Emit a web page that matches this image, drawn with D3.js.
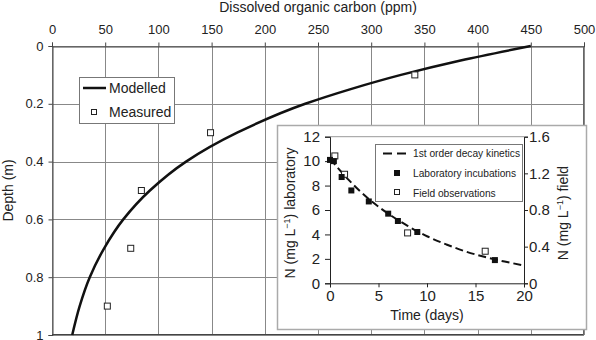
<!DOCTYPE html>
<html>
<head>
<meta charset="utf-8">
<script src="https://cdn.jsdelivr.net/npm/d3@7"></script>
<style>
body { margin: 0; background: #fff; }
text { font-family: "Liberation Sans", Arial, sans-serif; fill: #222; }
</style>
</head>
<body>
<div id="chart"></div>
<script>
// main chart data
const docTicks = [0, 50, 100, 150, 200, 250, 300, 350, 400, 450, 500];
const depthTicks = [0, 0.2, 0.4, 0.6, 0.8, 1];
const modelDepth = [0, 0.05, 0.1, 0.15, 0.2, 0.3, 0.4, 0.5, 0.6, 0.7, 0.8, 0.9, 1.0];
const modelDoc = [450, 384, 328, 280, 238, 174, 126, 92, 67, 49, 35.5, 26, 19];
const measuredDoc = [341, 149, 84, 74, 52];
const measuredDepth = [0.1, 0.3, 0.5, 0.7, 0.9];

// inset data
const dayTicks = [0, 5, 10, 15, 20];
const labTicks = [0, 2, 4, 6, 8, 10, 12];
const fieldTicks = [0, 0.4, 0.8, 1.2, 1.6];
const labDays = [0, 0.4, 1.2, 2.2, 4, 6, 7, 9, 17];
const labN = [10.1, 10.0, 8.7, 7.6, 6.7, 5.7, 5.1, 4.2, 1.9];
const fieldDays = [0.5, 1.5, 8, 16];
const fieldN = [1.39, 1.19, 0.55, 0.35];
const fitDays = [0, 2, 4, 6, 8, 10, 12, 14, 16, 18, 20];
const fitN = [10.2, 8.4, 6.9, 5.7, 4.7, 3.85, 3.18, 2.6, 2.15, 1.78, 1.46];

(function chart() {
const width = 596, height = 340;
const svg = d3.select("#chart").append("svg")
    .attr("width", width).attr("height", height);

const x = d3.scaleLinear().domain([0, 500]).range([52, 584]);
const y = d3.scaleLinear().domain([0, 1]).range([46, 335]);

// gridlines
const grid = svg.append("g").attr("stroke", "#888").attr("stroke-width", 1);
for (let t of docTicks) {
    grid.append("line").attr("x1", Math.round(x(t)) + 0.5).attr("x2", Math.round(x(t)) + 0.5)
        .attr("y1", y(0)).attr("y2", y(1));
}
for (let t of depthTicks) {
    grid.append("line").attr("y1", Math.round(y(t)) + 0.5).attr("y2", Math.round(y(t)) + 0.5)
        .attr("x1", x(0)).attr("x2", x(500));
}

// axes
const topAxis = svg.append("g")
    .attr("transform", `translate(0,${Math.round(y(0)) + 0.5})`)
    .call(d3.axisTop(x).tickValues(docTicks).tickSize(4).tickPadding(9).tickFormat(d3.format("d")));
const leftAxis = svg.append("g")
    .attr("transform", `translate(${Math.round(x(0)) + 0.5},0)`)
    .call(d3.axisLeft(y).tickValues(depthTicks).tickSize(4).tickPadding(5).tickFormat(d => d));
for (let a of [topAxis, leftAxis]) {
    a.selectAll("text").attr("font-size", 13).attr("font-family", null);
    a.selectAll("line, path").attr("stroke", "#444");
}
svg.append("line").attr("x1", x(0)).attr("x2", x(500))
    .attr("y1", Math.round(y(1)) - 0.5).attr("y2", Math.round(y(1)) - 0.5).attr("stroke", "#444");
svg.append("line").attr("y1", y(0)).attr("y2", y(1))
    .attr("x1", Math.round(x(500)) - 0.5).attr("x2", Math.round(x(500)) - 0.5).attr("stroke", "#666");

svg.append("text").text("Dissolved organic carbon (ppm)")
    .attr("x", (x(0) + x(500)) / 2).attr("y", 12)
    .attr("text-anchor", "middle").attr("font-size", 14);
svg.append("text").text("Depth (m)")
    .attr("transform", `translate(13,${(y(0) + y(1)) / 2}) rotate(-90)`)
    .attr("text-anchor", "middle").attr("font-size", 14);

// modelled curve
const modelled = modelDepth.map((d, i) => ({ depth: d, doc: modelDoc[i] }));
svg.append("path")
    .datum(modelled)
    .attr("fill", "none")
    .attr("stroke", "#111")
    .attr("stroke-width", 2.5)
    .attr("d", d3.line().x(d => x(d.doc)).y(d => y(d.depth)).curve(d3.curveMonotoneY));

// measured squares
svg.append("g").selectAll("rect")
    .data(measuredDoc.map((d, i) => ({ doc: d, depth: measuredDepth[i] })))
    .join("rect")
    .attr("x", d => x(d.doc) - 3).attr("y", d => y(d.depth) - 3)
    .attr("width", 6).attr("height", 6)
    .attr("fill", "#fff").attr("stroke", "#222");

// main legend
const leg = svg.append("g");
leg.append("rect").attr("x", 79.5).attr("y", 77.5).attr("width", 95).attr("height", 46)
    .attr("fill", "#fff").attr("stroke", "#777");
leg.append("line").attr("x1", 83).attr("x2", 106).attr("y1", 88).attr("y2", 88)
    .attr("stroke", "#111").attr("stroke-width", 2.5);
leg.append("text").text("Modelled").attr("x", 109).attr("y", 93).attr("font-size", 14);
leg.append("rect").attr("x", 91.5).attr("y", 109.5).attr("width", 5).attr("height", 5)
    .attr("fill", "#fff").attr("stroke", "#222");
leg.append("text").text("Measured").attr("x", 109).attr("y", 117).attr("font-size", 14);

// ---------- inset ----------
const inset = svg.append("g");
inset.append("rect").attr("x", 277.5).attr("y", 125.5).attr("width", 309).attr("height", 204)
    .attr("fill", "#fff").attr("stroke", "#aaa").attr("stroke-width", 1.5);

const ix = d3.scaleLinear().domain([0, 20]).range([330, 524]);
const iyL = d3.scaleLinear().domain([0, 12]).range([283.3, 136.7]);
const iyR = d3.scaleLinear().domain([0, 1.6]).range([283.3, 136.7]);

inset.append("line").attr("x1", ix(0)).attr("x2", ix(20))
    .attr("y1", iyL(12)).attr("y2", iyL(12)).attr("stroke", "#999");

const ib = inset.append("g").attr("transform", `translate(0,${iyL(0)})`)
    .call(d3.axisBottom(ix).tickValues(dayTicks).tickSize(4).tickPadding(3));
const il = inset.append("g").attr("transform", `translate(${ix(0)},0)`)
    .call(d3.axisLeft(iyL).tickValues(labTicks).tickSize(5).tickPadding(5));
const ir = inset.append("g").attr("transform", `translate(${ix(20)},0)`)
    .call(d3.axisRight(iyR).tickValues(fieldTicks).tickSize(4).tickPadding(1).tickFormat(d => d));
for (let a of [ib, il, ir]) {
    a.selectAll("text").attr("font-size", 15).attr("font-family", null);
    a.selectAll("line, path").attr("stroke", "#222");
}

inset.append("text").text("Time (days)")
    .attr("x", (ix(0) + ix(20)) / 2).attr("y", 320)
    .attr("text-anchor", "middle").attr("font-size", 14);

function yLabel(tx, ty, rest) {
    const t = inset.append("text")
        .attr("transform", `translate(${tx},${ty}) rotate(-90)`)
        .attr("text-anchor", "middle").attr("font-size", 14);
    t.append("tspan").text("N (mg L");
    t.append("tspan").attr("dy", -5).attr("font-size", 9).text("\u22121");
    t.append("tspan").attr("dy", 5).text(rest);
}
yLabel(295, 213, ") laboratory");
yLabel(568, 213, ") field");

// fitted decay curve
const fit = fitDays.map((d, i) => ({ day: d, n: fitN[i] }));
inset.append("path")
    .datum(fit)
    .attr("fill", "none")
    .attr("stroke", "#111")
    .attr("stroke-width", 2)
    .attr("stroke-dasharray", "8,4")
    .attr("d", d3.line().x(d => ix(d.day)).y(d => iyL(d.n)).curve(d3.curveMonotoneX));

inset.append("g").selectAll("rect")
    .data(fieldDays.map((d, i) => ({ day: d, n: fieldN[i] })))
    .join("rect")
    .attr("x", d => ix(d.day) - 3).attr("y", d => iyR(d.n) - 3)
    .attr("width", 6).attr("height", 6)
    .attr("fill", "#fff").attr("stroke", "#222");

inset.append("g").selectAll("rect")
    .data(labDays.map((d, i) => ({ day: d, n: labN[i] })))
    .join("rect")
    .attr("x", d => ix(d.day) - 3).attr("y", d => iyL(d.n) - 3)
    .attr("width", 6).attr("height", 6)
    .attr("fill", "#111");

// inset legend
const lg = inset.append("g");
lg.append("rect").attr("x", 375.5).attr("y", 144.5).attr("width", 147).attr("height", 57)
    .attr("fill", "#fff").attr("stroke", "#777");
lg.append("line").attr("x1", 383).attr("x2", 408).attr("y1", 153.5).attr("y2", 153.5)
    .attr("stroke", "#111").attr("stroke-width", 2).attr("stroke-dasharray", "9,5");
lg.append("text").text("1st order decay kinetics").attr("x", 413).attr("y", 157).attr("font-size", 10.2);
lg.append("rect").attr("x", 394).attr("y", 170).attr("width", 6).attr("height", 6).attr("fill", "#111");
lg.append("text").text("Laboratory incubations").attr("x", 413).attr("y", 177).attr("font-size", 10.2);
lg.append("rect").attr("x", 394.5).attr("y", 189.5).attr("width", 5).attr("height", 5)
    .attr("fill", "#fff").attr("stroke", "#222");
lg.append("text").text("Field observations").attr("x", 413).attr("y", 196.5).attr("font-size", 10.2);
})();
</script>
</body>
</html>
